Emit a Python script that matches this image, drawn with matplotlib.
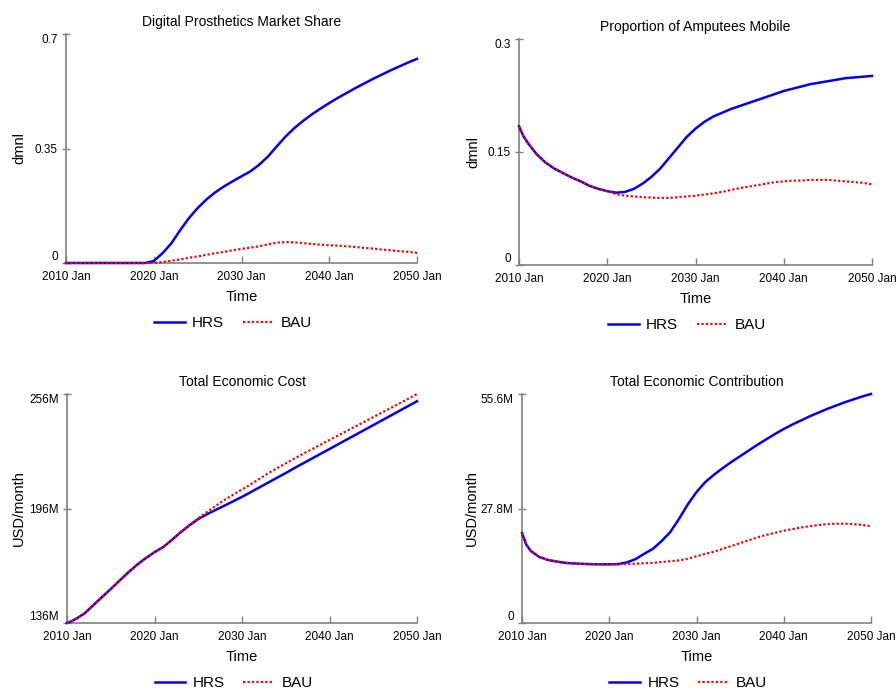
import matplotlib
matplotlib.use("Agg")
import matplotlib.pyplot as plt

plt.rcParams["font.family"] = ["Liberation Sans", "DejaVu Sans"]

W, H = 896, 691
SPINE = "#808080"
HRS_COLOR = "#0000ff"
BAU_COLOR = "#ff0000"

# shared time axis (years, with one extra half-year point for the early drop)
years = [2010, 2010.5] + list(range(2011, 2051))

# --- Digital Prosthetics Market Share (dmnl)
share_hrs = [0, 0, 0, 0, 0, 0, 0, 0, 0, 0, 0, 0.006,
             0.03, 0.06, 0.10, 0.137, 0.168, 0.194, 0.216, 0.234, 0.25, 0.265,
             0.28, 0.30, 0.325, 0.356, 0.386, 0.412, 0.434, 0.454, 0.472, 0.489,
             0.505, 0.52, 0.535, 0.549, 0.563, 0.576, 0.589, 0.601, 0.613, 0.624]
share_bau = [0, 0, 0, 0, 0, 0, 0, 0, 0, 0, 0, 0,
             0.003, 0.007, 0.011, 0.016, 0.02, 0.025, 0.03, 0.034, 0.039, 0.043,
             0.047, 0.051, 0.057, 0.062, 0.064, 0.063, 0.061, 0.058, 0.056, 0.054,
             0.053, 0.051, 0.049, 0.046, 0.044, 0.041, 0.039, 0.036, 0.034, 0.031]

# --- Proportion of Amputees Mobile (dmnl)
mobile_hrs = [0.184, 0.171, 0.162, 0.147, 0.136, 0.128, 0.122, 0.116, 0.111, 0.105, 0.101, 0.098,
              0.096, 0.097, 0.101, 0.108, 0.117, 0.128, 0.142, 0.156, 0.170, 0.181,
              0.190, 0.197, 0.202, 0.207, 0.211, 0.215, 0.219, 0.223, 0.227, 0.231,
              0.234, 0.237, 0.240, 0.242, 0.244, 0.246, 0.248, 0.249, 0.250, 0.251]
mobile_bau = [0.184, 0.171, 0.162, 0.147, 0.136, 0.128, 0.122, 0.116, 0.111, 0.105, 0.101, 0.098,
              0.094, 0.092, 0.091, 0.090, 0.0895, 0.089, 0.089, 0.090, 0.091, 0.092,
              0.0935, 0.095, 0.097, 0.0996, 0.102, 0.104, 0.106, 0.108, 0.110, 0.111,
              0.112, 0.112, 0.113, 0.113, 0.113, 0.112, 0.111, 0.110, 0.109, 0.107]

# --- Total Economic Cost (million USD/month)
cost_hrs = [136, 136.9, 138.1, 141, 145.3, 149.6, 153.8, 158.2, 162.5, 166.5, 170, 173.1,
            175.8, 179.6, 183.6, 187.2, 190.5, 193.0, 195.3, 197.5, 199.8, 202.1,
            204.6, 207.1, 209.6, 212.1, 214.6, 217.2, 219.7, 222.2, 224.7, 227.2,
            229.7, 232.2, 234.7, 237.2, 239.7, 242.2, 244.7, 247.2, 249.7, 252.2]
cost_bau = [136, 136.9, 138.1, 141, 145.3, 149.6, 153.8, 158.2, 162.5, 166.5, 170, 173.1,
            175.8, 179.6, 183.6, 187.4, 190.9, 194.2, 197.4, 200.5, 203.3, 206.0,
            208.7, 211.6, 214.5, 217.1, 219.7, 222.2, 224.7, 227.1, 229.5, 231.9,
            234.3, 236.7, 239.1, 241.5, 243.9, 246.3, 248.7, 251.1, 253.5, 256.0]

# --- Total Economic Contribution (million USD/month)
contrib_hrs = [21.8, 19.0, 17.5, 16.0, 15.3, 14.9, 14.6, 14.45, 14.35, 14.28, 14.25, 14.25,
               14.3, 14.7, 15.5, 16.8, 18.0, 19.9, 22.1, 25.3, 28.8, 31.8,
               34.2, 36.0, 37.6, 39.1, 40.5, 41.9, 43.3, 44.6, 45.9, 47.1,
               48.2, 49.2, 50.2, 51.1, 52.0, 52.8, 53.6, 54.3, 55.0, 55.6]
contrib_bau = [21.8, 19.0, 17.5, 16.0, 15.3, 14.9, 14.6, 14.45, 14.35, 14.28, 14.25, 14.25,
               14.25, 14.3, 14.4, 14.5, 14.6, 14.8, 15.0, 15.2, 15.6, 16.2,
               16.8, 17.3, 18.0, 18.7, 19.4, 20.1, 20.8, 21.4, 21.9, 22.4,
               22.8, 23.2, 23.5, 23.8, 24.0, 24.1, 24.1, 24.0, 23.8, 23.5]

x_ticks = [2010, 2020, 2030, 2040, 2050]
x_tick_labels = ["2010 Jan", "2020 Jan", "2030 Jan", "2040 Jan", "2050 Jan"]

panels = [
    # title, ylabel, hrs, bau, y ticks, y tick labels, pixel box (l, t, r, b), ylabel x px
    ("Digital Prosthetics Market Share", "dmnl", share_hrs, share_bau,
     [0, 0.35, 0.7], ["0", "0.35", "0.7"], (66, 34, 417, 263), 19),
    ("Proportion of Amputees Mobile", "dmnl", mobile_hrs, mobile_bau,
     [0, 0.15, 0.3], ["0", "0.15", "0.3"], (519, 39, 872, 265), 473),
    ("Total Economic Cost", "USD/month", cost_hrs, cost_bau,
     [136, 196, 256], ["136M", "196M", "256M"], (67, 394, 417, 623), 19),
    ("Total Economic Contribution", "USD/month", contrib_hrs, contrib_bau,
     [0, 27.8, 55.6], ["0", "27.8M", "55.6M"], (522, 394, 871, 623), 472),
]

fig = plt.figure(figsize=(W / 100, H / 100), dpi=100)

for title, ylabel, hrs, bau, yt, ytl, (l, t, r, b), ylab_x in panels:
    ax = fig.add_axes([l / W, 1 - b / H, (r - l) / W, (b - t) / H])
    ax.plot(years, hrs, color=HRS_COLOR, lw=1.8, label="HRS", clip_on=False, zorder=3)
    ax.plot(years, bau, color=BAU_COLOR, lw=1.6, ls=(0, (1, 1)), label="BAU",
            clip_on=False, zorder=4)

    ax.set_xlim(2010, 2050)
    ax.set_ylim(yt[0], yt[-1])
    ax.set_xticks(x_ticks)
    ax.set_xticklabels(x_tick_labels, fontsize=8.5)
    ax.set_yticks(yt)
    ax.set_yticklabels(ytl, fontsize=8.5)
    labels = ax.get_yticklabels()
    labels[0].set_va("bottom")
    labels[-1].set_va("top")

    for s in ("top", "right"):
        ax.spines[s].set_visible(False)
    for s in ("left", "bottom"):
        ax.spines[s].set_color(SPINE)
        ax.spines[s].set_linewidth(1.2)
    ax.tick_params(axis="x", direction="in", length=5, width=1, color=SPINE, pad=6)
    ax.tick_params(axis="y", direction="inout", length=6, width=1, color=SPINE, pad=3)

    ax.set_title(title, fontsize=10, pad=6)
    ax.set_xlabel("Time", fontsize=10.5, va="center")
    ax.xaxis.set_label_coords(0.5, -34 / (b - t))
    ax.set_ylabel(ylabel, fontsize=10.5, va="center")
    ax.yaxis.set_label_coords((ylab_x - l) / (r - l), 0.5)

    ax.legend(loc="center", bbox_to_anchor=(0.476, -60 / (b - t)),
              ncol=2, frameon=False, fontsize=11, handlelength=2.0,
              handletextpad=0.5, columnspacing=1.2)

fig.savefig("out.png", dpi=100)
